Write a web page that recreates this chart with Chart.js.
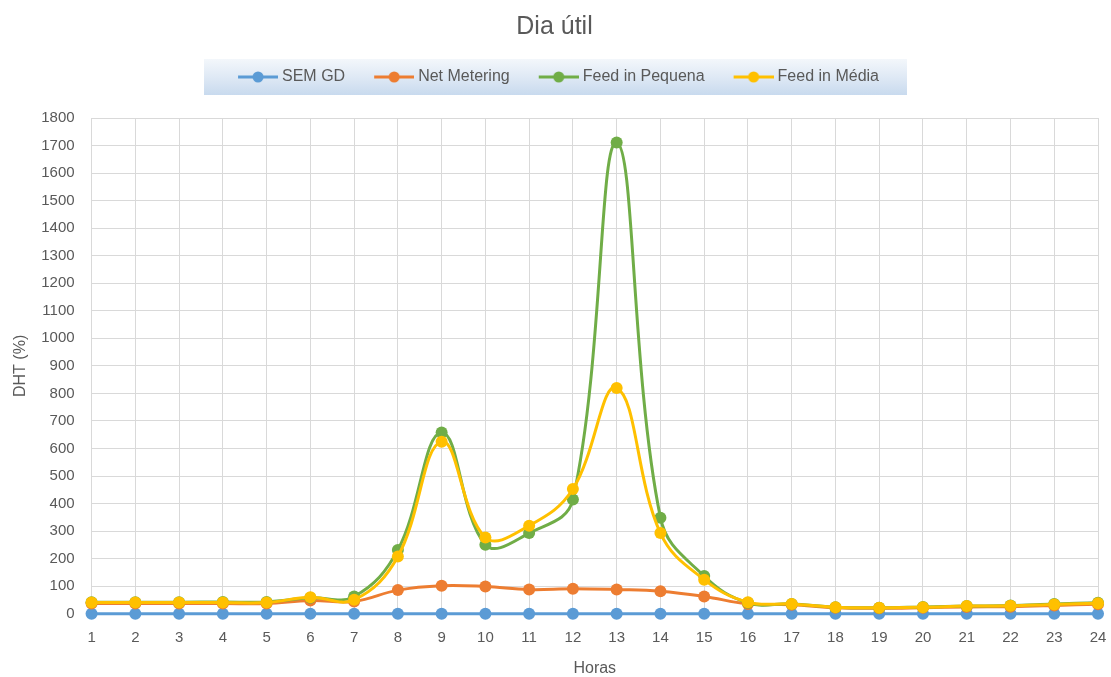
<!DOCTYPE html>
<html>
<head>
<meta charset="utf-8">
<script src="https://cdn.jsdelivr.net/npm/chart.js@4.4.1/dist/chart.umd.min.js"></script>
<style>
  html, body { margin: 0; padding: 0; background: #fff; }
  #wrap { width: 1111px; height: 677px; position: relative; }
</style>
</head>
<body>
<div id="wrap"><canvas id="chart"></canvas></div>
<script>
"use strict"

var horas = ["1","2","3","4","5","6","7","8","9","10","11","12","13","14","15","16","17","18","19","20","21","22","23","24"];

var sem_gd        = [0,0,0,0,0,0,0,0,0,0,0,0,0,0,0,0,0,0,0,0,0,0,0,0];
var net_metering  = [37,37,37,37,37,48,45,86,102,99,88,91,88,82,63,36,33,22,20,22,25,26,30,35];
var feed_pequena  = [42,42,42,43,43,58,63,232,658,251,293,415,1711,349,137,40,36,24,22,25,28,30,36,40];
var feed_media    = [41,41,41,41,41,60,51,208,625,277,320,453,820,293,124,42,36,24,22,24,28,29,34,38];

var serie_nomes = ["SEM GD", "Net Metering", "Feed in Pequena", "Feed in Média"];
var serie_cores = ["#5b9bd5", "#ed7d31", "#70ad47", "#ffc000"];

var FONT = "'Liberation Sans', 'DejaVu Sans', sans-serif";
var TXT = "#595959";

// legend marker: a short line with a dot; blank space on the left works as item gap
function legend_marker(cor){
    var c = document.createElement("canvas");
    c.width = 68; c.height = 14;
    var ctx = c.getContext("2d");
    ctx.strokeStyle = cor;
    ctx.lineWidth = 3;
    ctx.beginPath();
    ctx.moveTo(28, 7);
    ctx.lineTo(68, 7);
    ctx.stroke();
    ctx.fillStyle = cor;
    ctx.beginPath();
    ctx.arc(48, 7, 5.5, 0, Math.PI * 2);
    ctx.fill();
    return c;
}

// gradient box behind the legend, extra space under it, legend centred on the box
var legend_bg = {
    id: "legend_bg",
    beforeInit: function(chart){
        var lg = chart.legend;
        var fit = lg.fit;
        lg.fit = function(){
            fit.call(lg);
            this.height += 23;
        };
        var draw = lg.draw;
        lg.draw = function(){
            var c = chart.ctx;
            c.save();
            c.translate(chart.$legend_dx || 0, 0);
            draw.apply(lg, arguments);
            c.restore();
        };
    },
    beforeDraw: function(chart){
        var hb = chart.legend && chart.legend.legendHitBoxes;
        if(!hb || !hb.length) return;
        var ctx = chart.ctx;
        var left = hb[0].left + 24 - 34;
        var last = hb[hb.length - 1];
        var right = last.left + last.width + 28;
        var dx = 555.5 - (left + right) / 2;
        chart.$legend_dx = dx;
        left += dx; right += dx;
        var cy = hb[0].top + hb[0].height / 2;
        var top = cy - 18, h = 36;
        var g = ctx.createLinearGradient(0, top, 0, top + h);
        g.addColorStop(0, "#f3f7fb");
        g.addColorStop(0.5, "#dfe9f5");
        g.addColorStop(1, "#c8daee");
        ctx.save();
        ctx.fillStyle = g;
        ctx.fillRect(left, top, right - left, h);
        ctx.restore();
    }
};

function make_dataset(i, data){
    return {
        label: serie_nomes[i],
        data: data,
        borderColor: serie_cores[i],
        backgroundColor: serie_cores[i],
        pointBackgroundColor: serie_cores[i],
        pointBorderColor: serie_cores[i],
        pointRadius: 6,
        pointHoverRadius: 6,
        pointBorderWidth: 0,
        pointStyle: "circle",
        legendStyle: legend_marker(serie_cores[i]),
        borderWidth: 3,
        tension: 0.4,
        fill: false,
        clip: 10,
        order: 3 - i
    };
}

var datasets = [
    make_dataset(0, sem_gd),
    make_dataset(1, net_metering),
    make_dataset(2, feed_pequena),
    make_dataset(3, feed_media)
];

var ctx = document.getElementById("chart").getContext("2d");
new Chart(ctx, {
    type: "line",
    data: { labels: horas, datasets: datasets },
    plugins: [legend_bg],
    options: {
        responsive: true,
        maintainAspectRatio: false,
        animation: false,
        layout: { padding: { left: 11, right: 13, top: 8, bottom: -1 } },
        plugins: {
            title: {
                display: true,
                text: "Dia útil",
                color: TXT,
                font: { family: FONT, size: 25, weight: "normal" },
                padding: { top: 4, bottom: 22 }
            },
            legend: {
                display: true,
                position: "top",
                labels: {
                    usePointStyle: true,
                    pointStyleWidth: 60,
                    padding: 5,
                    color: TXT,
                    font: { family: FONT, size: 16 },
                    generateLabels: function(chart){
                        return chart.data.datasets.map(function(d, i){
                            return {
                                text: d.label,
                                fillStyle: d.borderColor,
                                strokeStyle: d.borderColor,
                                lineWidth: 0,
                                pointStyle: d.legendStyle,
                                hidden: false,
                                datasetIndex: i,
                                fontColor: TXT
                            };
                        });
                    }
                }
            },
            tooltip: { enabled: false }
        },
        scales: {
            x: {
                offset: false,
                grid: { color: "#d9d9d9", lineWidth: 1, drawTicks: false },
                border: { color: "#d9d9d9" },
                ticks: { color: TXT, font: { family: FONT, size: 15 }, padding: 15, maxRotation: 0, autoSkip: false },
                title: { display: true, text: "Horas", color: TXT, font: { family: FONT, size: 16 }, padding: { top: -3, bottom: 0 } },
                afterFit: function(scale){ scale.paddingRight = 0; }
            },
            y: {
                min: 0,
                max: 1800,
                grid: { color: "#d9d9d9", lineWidth: 1, drawTicks: false },
                border: { color: "#d9d9d9" },
                ticks: {
                    stepSize: 100, color: TXT, font: { family: FONT, size: 15 }, padding: 17,
                    callback: function(v){ return String(v); }
                },
                title: { display: true, text: "DHT (%)", color: TXT, font: { family: FONT, size: 16 }, padding: { top: 0, bottom: -6 } }
            }
        }
    }
});
</script>
</body>
</html>
